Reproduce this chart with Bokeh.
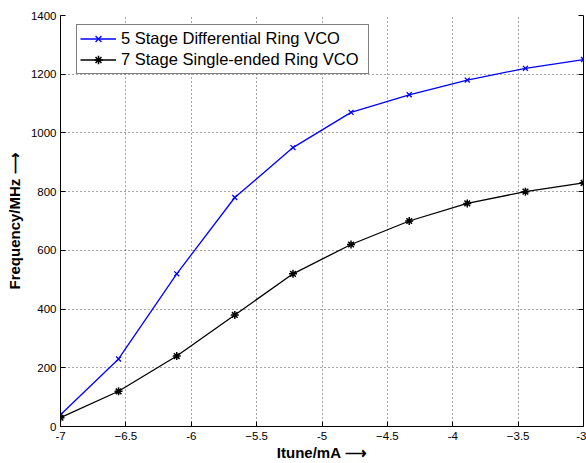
from bokeh.plotting import figure
from bokeh.models import LinearAxis, Range1d, Legend, LegendItem, FixedTicker
from bokeh.embed import file_html
from bokeh.resources import INLINE

itune = [-7.0, -6.556, -6.111, -5.667, -5.222, -4.778, -4.333, -3.889, -3.444, -3.0]
freq_diff5 = [40, 230, 520, 780, 950, 1070, 1130, 1180, 1220, 1250]
freq_se7 = [30, 120, 240, 380, 520, 620, 700, 760, 800, 830]
x_ticks = [-7, -6.5, -6, -5.5, -5, -4.5, -4, -3.5, -3]
y_ticks = [0, 200, 400, 600, 800, 1000, 1200, 1400]

FONT = "Liberation Sans"

p = figure(width=586, height=463, output_backend="svg", toolbar_location=None,
           x_range=Range1d(-7, -3), y_range=Range1d(0, 1400),
           min_border_left=60, min_border_right=3, min_border_top=15, min_border_bottom=37)
p.outline_line_color = None
p.background_fill_color = "white"
p.border_fill_color = "white"

for ax in (p.xaxis[0], p.yaxis[0]):
    ax.major_tick_in = 5
    ax.major_tick_out = 0
    ax.minor_tick_in = 0
    ax.minor_tick_out = 0
    ax.major_label_text_font = FONT
    ax.major_label_text_font_size = "11.5px"
    ax.major_label_text_color = "black"
    ax.axis_line_color = "black"
    ax.major_tick_line_color = "black"
    ax.axis_label_text_font = FONT
    ax.axis_label_text_font_style = "bold"
    ax.axis_label_text_font_size = "15px"
    ax.axis_label_text_color = "black"

p.xaxis[0].ticker = FixedTicker(ticks=x_ticks)
p.yaxis[0].ticker = FixedTicker(ticks=y_ticks)
p.xaxis[0].major_label_overrides = {-7: "-7", -6: "-6", -5: "-5", -4: "-4", -3: "-3"}
p.xaxis[0].axis_label = "Itune/mA \u27f6"
p.yaxis[0].axis_label = "Frequency/MHz \u27f6"
p.xaxis[0].major_label_standoff = 5
p.yaxis[0].major_label_standoff = 4
p.xaxis[0].axis_label_standoff = 1
p.yaxis[0].axis_label_standoff = 5

rax = LinearAxis(ticker=FixedTicker(ticks=y_ticks),
                 major_label_overrides={t: "" for t in y_ticks},
                 major_tick_in=5, major_tick_out=0, minor_tick_in=0, minor_tick_out=0,
                 axis_line_color="black", major_label_standoff=0)
p.add_layout(rax, "right")

for g in (p.xgrid[0], p.ygrid[0]):
    g.grid_line_color = "black"
    g.grid_line_dash = "1 3"
    g.grid_line_alpha = 0.7
p.xgrid[0].ticker = FixedTicker(ticks=x_ticks)
p.ygrid[0].ticker = FixedTicker(ticks=y_ticks)

l1 = p.line(itune, freq_diff5, line_color="blue", line_width=1.3)
m1 = p.scatter(itune, freq_diff5, marker="x", size=7, line_color="blue", line_width=1.3)
l2 = p.line(itune, freq_se7, line_color="black", line_width=1.3)
m2 = p.scatter(itune, freq_se7, marker="asterisk", size=8, line_color="black", line_width=1.5)

legend = Legend(items=[
    LegendItem(label="5 Stage Differential Ring VCO", renderers=[l1, m1]),
    LegendItem(label="7 Stage Single-ended Ring VCO", renderers=[l2, m2]),
], location=(16, 352))
legend.label_text_font = FONT
legend.label_text_font_size = "16.5px"
legend.label_text_color = "black"
legend.glyph_width = 36
legend.glyph_height = 21
legend.label_height = 21
legend.label_width = 244
legend.spacing = 0
legend.padding = 3
legend.margin = 0
legend.label_standoff = 5
legend.border_line_color = "black"
legend.border_line_width = 1
legend.background_fill_alpha = 1
p.add_layout(legend, "center")

open("out.html", "w").write(file_html(p, INLINE))
